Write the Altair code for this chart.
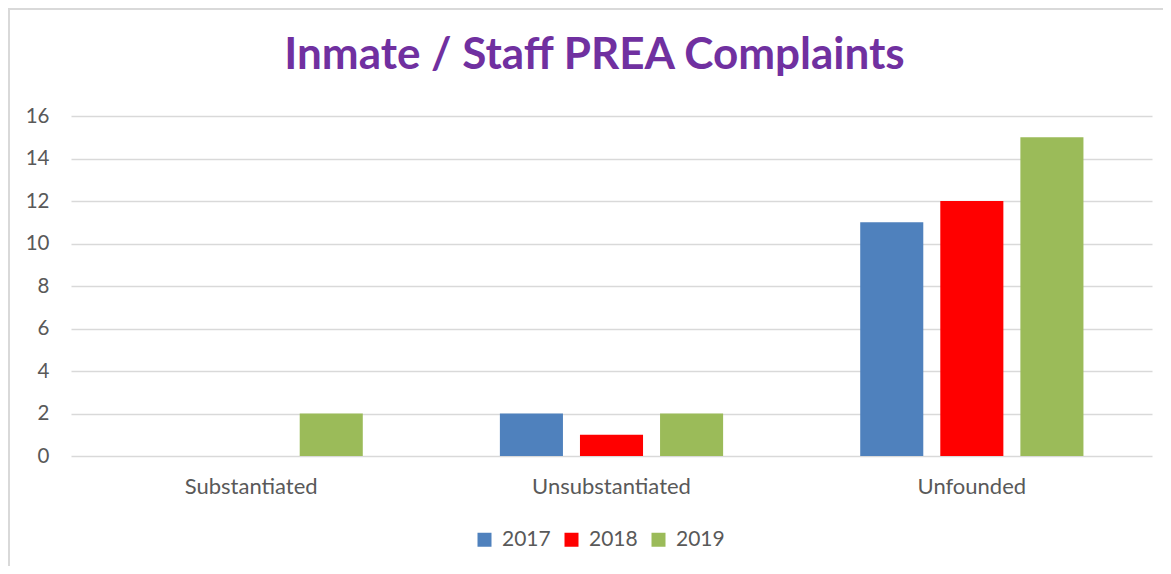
import altair as alt
import pandas as pd

categories = ["Substantiated", "Unsubstantiated", "Unfounded"]
years = ["2017", "2018", "2019"]
values_2017 = [0, 2, 11]
values_2018 = [0, 1, 12]
values_2019 = [2, 2, 15]
colors = ["#4F81BD", "#FF0000", "#9BBB59"]

rows = []
for i, c in enumerate(categories):
    for y, vals in zip(years, [values_2017, values_2018, values_2019]):
        rows.append({"category": c, "year": y, "value": vals[i]})
df = pd.DataFrame(rows)

FONT = "Lato"

bars = alt.Chart(df).mark_bar().encode(
    x=alt.X("category:N", sort=categories, title=None,
            scale=alt.Scale(paddingInner=0, paddingOuter=0),
            axis=alt.Axis(labelAngle=0, labelFontSize=22, labelColor="#595959",
                          labelFont=FONT, ticks=False, domain=False, labelPadding=20,
                          grid=False)),
    xOffset=alt.XOffset("year:N", sort=years,
                        scale=alt.Scale(paddingInner=0.2125, paddingOuter=0.856)),
    y=alt.Y("value:Q", title=None,
            scale=alt.Scale(domain=[0, 16]),
            axis=alt.Axis(values=list(range(0, 17, 2)), labelFontSize=20.5,
                          labelColor="#595959", labelFont=FONT, ticks=False,
                          domain=False, labelPadding=22, gridColor="#d9d9d9",
                          gridWidth=1.5)),
    color=alt.Color("year:N", sort=years,
                    scale=alt.Scale(domain=years, range=colors),
                    legend=alt.Legend(title=None, orient="none", direction="horizontal",
                                      legendX=403, legendY=413, symbolType="square",
                                      symbolSize=196, symbolStrokeWidth=0,
                                      labelFontSize=21, labelColor="#595959",
                                      labelFont=FONT, columnPadding=10, labelOffset=7)),
)

frame = alt.Chart(df).mark_rect(fill=None, stroke="#d9d9d9", strokeWidth=1.5).encode(
    x=alt.value(-62), x2=alt.value(1120), y=alt.value(-107), y2=alt.value(480)
)

chart = alt.layer(frame, bars).properties(
    width=1081,
    height=340,
    autosize=alt.AutoSizeParams(type="none"),
    padding={"left": 63, "top": 108, "right": 11, "bottom": 110},
    title=alt.Title("Inmate / Staff PREA Complaints", fontSize=44, fontWeight="bold",
                    color="#7030A0", font=FONT, offset=0, dy=105, dx=-17,
                    frame="group", baseline="alphabetic"),
).configure_view(stroke=None)

chart.save("out.html", embed_options={"renderer": "svg", "actions": False})
